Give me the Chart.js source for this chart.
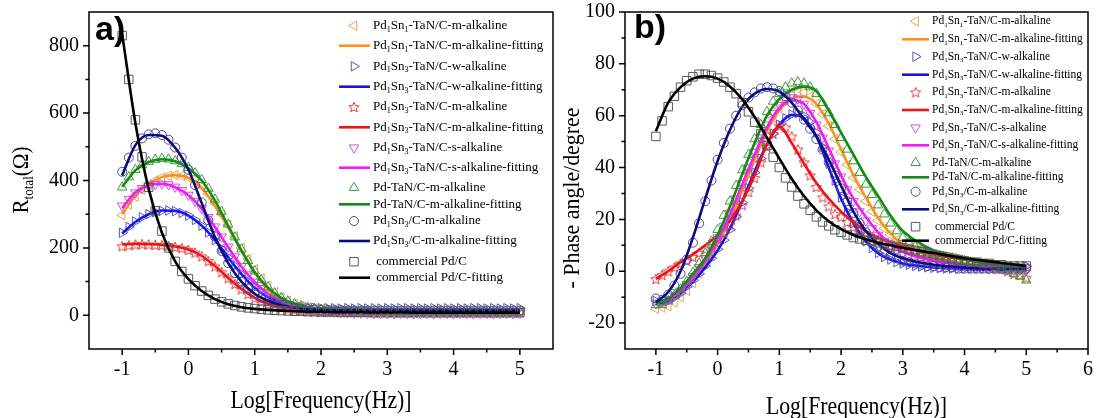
<!DOCTYPE html>
<html>
<head>
<meta charset="utf-8">
<script src="https://cdn.jsdelivr.net/npm/chart.js@4.4.1/dist/chart.umd.min.js"></script>
<style>
  body { margin: 0; background: #fff; }
  #wrap { position: relative; width: 1096px; height: 418px; }
  canvas { position: absolute; top: 0; }
</style>
</head>
<body>
<div id="wrap">
  <canvas id="chartA" width="560" height="418" style="left:0"></canvas>
  <canvas id="chartB" width="536" height="418" style="left:560px"></canvas>
</div>
<script>
// log frequency of the measured points and of the fitted curves
const logF = [-1,-0.9,-0.8,-0.7,-0.6,-0.5,-0.4,-0.3,-0.2,-0.1,0,0.1,0.2,0.3,0.4,0.5,0.6,0.7,0.8,0.9,
  1,1.1,1.2,1.3,1.4,1.5,1.6,1.7,1.8,1.9,2,2.1,2.2,2.3,2.4,2.5,2.6,2.7,2.8,2.9,
  3,3.1,3.2,3.3,3.4,3.5,3.6,3.7,3.8,3.9,4,4.1,4.2,4.3,4.4,4.5,4.6,4.7,4.8,4.9,5];
const fitLogF = [-1,-0.8,-0.6,-0.4,-0.2,0,0.2,0.4,0.6,0.8,1,1.2,1.4,1.6,1.8,2,2.2,2.4,2.6,2.8,3,3.5,4,4.5,5];

const legendLabels = [
  'Pd_1Sn_1-TaN/C-m-alkaline', 'Pd_1Sn_1-TaN/C-m-alkaline-fitting',
  'Pd_1Sn_3-TaN/C-w-alkaline', 'Pd_1Sn_3-TaN/C-w-alkaline-fitting',
  'Pd_1Sn_3-TaN/C-m-alkaline', 'Pd_1Sn_3-TaN/C-m-alkaline-fitting',
  'Pd_1Sn_3-TaN/C-s-alkaline', 'Pd_1Sn_3-TaN/C-s-alkaline-fitting',
  'Pd-TaN/C-m-alkaline', 'Pd-TaN/C-m-alkaline-fitting',
  'Pd_1Sn_3/C-m-alkaline', 'Pd_1Sn_3/C-m-alkaline-fitting',
  ' commercial Pd/C', ' commercial Pd/C-fitting'
];

// a) R_total (ohm), measured
const rOrange = [297,328,352,373,388,400,409,414,416,414, 409,398,382,360,332,300,268,234,200,167,
  136,110,87,68,53,42,34,28,23,20, 18,16,15,14,14,13,13,13,13,12, 12,13,12,12,13,12,12,13,12,12, 12,12,13,12,12,12,13,12,12,12,12];
const rBlue = [245,262,278,291,300,306,310,311,309,304, 296,283,266,246,223,198,172,147,123,101,
  83,67,55,45,38,32,28,25,23,22, 21,21,21,20,21,20,21,20,21,20, 21,20,21,21,20,21,20,21,20,21, 20,21,20,21,21,20,21,20,21,20,21];
const rRed = [205,208,210,211,210,209,208,206,203,199, 194,186,175,161,145,128,110,93,77,63,
  51,41,33,27,22,18,15,13,12,11, 10,10,10,9,9,9,9,9,9,9, 9,9,9,9,9,9,9,9,9,9, 9,9,9,9,9,9,9,9,9,9,9];
const rMagenta = [325,345,364,377,385,389,390,388,381,371, 357,339,317,291,263,233,203,174,146,121,
  99,80,64,51,41,33,27,22,18,15, 13,11,10,9,8,7,7,6,6,6, 6,5,6,6,5,6,6,5,6,6, 5,6,6,5,6,6,5,6,6,5,6];
const rGreen = [380,410,432,446,456,462,465,463,458,449, 438,422,402,376,344,308,270,232,196,162,
  131,105,84,66,52,42,34,28,23,20, 17,15,14,13,12,12,11,11,11,10, 10,10,10,10,10,10,10,10,10,10, 10,10,10,10,10,10,10,10,10,10,10];
const rNavy = [426,468,503,525,537,540,535,521,498,468, 432,386,335,282,234,191,155,125,100,80,
  64,52,43,36,30,26,23,20,18,17, 16,15,15,15,14,14,14,14,14,14, 14,14,14,14,14,14,14,14,14,14, 14,14,14,14,14,14,14,14,14,14,14];
const rBlack = [830,700,580,470,380,310,250,200,160,130, 108,88,72,59,48,40,34,29,25,22,
  20,18,16,15,14,13,12,12,11,11, 10,10,10,9,9,9,9,9,8,8, 8,8,8,8,8,8,8,8,8,8, 8,8,8,8,8,8,8,8,8,8,8];

// a) fitting
const rOrangeFit = [300,355,390,410,416,408,378,324,260,192,127,78,46,29,20,16,14,13,12.5,12,12,12,12,12,12];
const rBlueFit = [243,277,300,311,310,296,266,223,172,122,82,54,37,27,22,20,19,19,18.5,18,18,18,18,18,18];
const rRedFit = [210,212,211,209,204,195,176,146,111,78,52,34,23,16,13,11,10.5,10,10,10,10,10,10,10,10];
const rMagentaFit = [318,365,386,390,380,356,316,262,202,145,98,64,42,29,22,18,16,15,14,13.5,13,13,13,13,13];
const rGreenFit = [381,430,455,463,457,436,400,340,265,192,128,82,52,34,24,19,16,14,13,12.5,12,12,12,12,12];
const rNavyFit = [415,505,535,533,497,432,333,232,155,100,64,43,30,23,18,16,15,15,14.5,14,14,14,14,14,14];
const rBlackFit = [835,570,375,245,160,107,72,48,33,24,19,16,14,12,11,10,9.5,9,9,8.5,8.5,8,8,8,8];

// b) -phase angle (degree), measured
const phOrange = [-14.5,-14,-13.5,-12,-10,-7.5,-4.5,-1,3,7, 11,15.5,20.5,26,31.5,37.5,43.5,49,54.5,59,
  63,66,68,69,69,67.5,64.5,60.5,56,51, 46,41,36,31.5,27,23,19.5,16.5,14,12, 10.5,9,8,7,6,5.5,5,4.5,4,3.5, 3,3,2.5,2.5,2,2,1.5,1.5,1,1,1];
const phBlue = [-11.5,-12,-11.5,-10,-8.5,-6,-3.5,-1,2,5, 8.5,12,16,21,26.5,32,38,43.5,48.5,53,
  56.5,59,60.5,61,60,57.5,53.5,48,41.5,35, 28.5,23,18.5,14.5,11.5,9,7,5.5,4.5,3.5, 3,2.5,2,1.8,1.5,1.3,1.2,1,1,1, 1,1,1,1,1,1,1,1,1.5,1.5,2];
const phRed = [-3,-1.5,0,1.5,3,4,5.5,7,8.5,10.5, 12.5,15,18,21.5,25.5,30.5,36,42,48,53,
  56,55.5,52,47,42,37,32.5,28.5,25,22, 21,19,17,15.5,14,13,12,11,10,9.5, 9,8.5,8,7.5,7,6.5,6,5.5,5,4.5, 4,3.5,3,2.5,2,1.5,1,0,-1,-1.5,-2.5];
const phMagenta = [-12.5,-12,-11,-9.5,-7.5,-5,-2,1.5,5,9, 13,17.5,22.5,28,34,40,46,51.5,56.5,61,
  64,66,67,66.5,64.5,61,56.5,51.5,46.5,41.5, 36.5,31.5,27,23,19.5,16.5,14,11.5,9.5,8, 7,6,5,4.5,4,3.5,3,2.5,2.5,2, 2,1.5,1.5,1.5,1,1,1,1,0.5,0.5,0.5];
const phGreen = [-13,-13,-11.5,-9.5,-7,-4,-0.5,3,7,11.5, 16,21.5,27,33,39,45,51,56.5,61.5,65.5,
  68.5,71,72.5,73,72.5,71,68.5,65,61,56.5, 51.5,47,42.5,38,33.5,29.5,25.5,22,18.5,15.5, 13,11,9.5,8,7,6.5,6,5.5,5,4.5, 4,3.5,3,2.5,2,1.5,1,0,-1,-2,-3.5];
const phNavy = [-10.5,-11,-9,-5.5,-1,4.5,11,18.5,27,35, 43,49.5,55,60,64,67,69,70.5,71,70.5,
  69.5,67.5,65,62,58.5,55,51,47,42,37, 32,27,22.5,18.5,15,12,9.5,7.5,6,5, 4,3.5,3,2.5,2,2,1.5,1.5,1.5,1, 1,1,1,1,1,1,1,1,1,1,1];
const phBlack = [52,58,63.5,67.5,71,73.5,75,76,76,75.5, 74.5,73,71,68.5,65,61.5,57.5,53,48.5,44,
  40,36,32.5,29,26,23.5,21,19,17.5,16, 15,14,13,12.5,12,11.5,11,10.5,10,9.5, 9,8.5,8,7.5,7,6.5,6,5.5,5,4.5, 4,3.5,3.5,3,3,2.5,2.5,2,2,2,2];

// b) fitting
const phOrangeFit = [-13,-12.5,-9,-4,2.5,10.5,20,31,43,54,62,66.5,67.3,64.5,57,47,37,28.5,20.5,14.5,10.5,5.5,3,2,1.5];
const phBlueFit = [-12.5,-11.5,-8.5,-4,1.5,8,16.5,27,38.5,49,56.5,60.3,59,52,40,28,18.5,11.5,7,4.5,3,1.5,0.8,0.5,0.3];
const phRedFit = [-3,0,3.5,6.5,10,14,19.5,27,37,49,55.8,49.5,41.5,34,28,23,19,15.5,13,11,9.5,6.5,4.5,3,2];
const phMagentaFit = [-12,-11,-7.5,-2.5,4,12,22,33.5,45,55.5,63,66,64.5,57.5,47.5,37,28,21,15,10.5,7.5,4,2.5,1.8,1.5];
const phGreenFit = [-12.5,-10.5,-6.5,-1,5,14,25,37.5,49.5,60,66.5,70,71.2,69.5,62,53.5,45,36.5,29,21.5,15.5,8,4.5,2.5,1.5];
const phNavyFit = [-12,-8,0,13,28,42.5,54.5,63.5,68.5,70.3,69.3,65,58.5,52,43,33,23,15.5,10.5,7,5,2.5,1.5,1,0.8];
const phBlackFit = [54,65,71,74.3,75.2,74.3,71.3,66.3,59.5,51.5,43.5,35.7,29,23.5,19.3,16.2,14,12.3,11,10,9,7,5,3.5,2];

// axis ticks
const xTicksA = [-1,0,1,2,3,4,5], xMinorA = [-0.5,0.5,1.5,2.5,3.5,4.5];
const yTicksA = [0,200,400,600,800], yMinorA = [100,300,500,700];
const xTicksB = [-1,0,1,2,3,4,5,6], xMinorB = [-0.5,0.5,1.5,2.5,3.5,4.5,5.5];
const yTicksB = [-20,0,20,40,60,80,100], yMinorB = [-10,10,30,50,70,90];

Chart.defaults.font.family = '"Liberation Serif", "Times New Roman", serif';
Chart.defaults.color = '#000';

function starCanvas(color) {
    const s = 12, c = document.createElement('canvas');
    c.width = c.height = s;
    const g = c.getContext('2d');
    g.strokeStyle = color; g.lineWidth = 1;
    g.beginPath();
    for (let k = 0; k < 10; k++) {
        const r = k % 2 ? 2.4 : 5.4, a = -Math.PI / 2 + k * Math.PI / 5;
        g.lineTo(s / 2 + r * Math.cos(a), s / 2 + 0.5 + r * Math.sin(a));
    }
    g.closePath(); g.stroke();
    return c;
}

const STYLES = [
    { mark: '#E9A35A', line: '#F7931E', shape: 'triangle', rot: -90, r: 5.5 },
    { mark: '#5555C8', line: '#1414E6', shape: 'triangle', rot: 90, r: 5.5 },
    { mark: '#E03C3C', line: '#E8151B', shape: 'star', rot: 0, r: 5 },
    { mark: '#C653E0', line: '#F01EF0', shape: 'triangle', rot: 180, r: 5.5 },
    { mark: '#3C9C3C', line: '#168A16', shape: 'triangle', rot: 0, r: 5.5 },
    { mark: '#4B4B9B', line: '#0C0C7A', shape: 'circle', rot: 0, r: 4.5 },
    { mark: '#5A5A5A', line: '#000000', shape: 'rect', rot: 0, r: 6 },
];

function makeDatasets(marks, fits) {
    const out = [];
    STYLES.forEach((s, i) => {
        out.push({
            label: legendLabels[2 * i],
            data: logF.map((x, k) => ({ x, y: marks[i][k] })),
            showLine: false,
            pointStyle: s.shape === 'star' ? starCanvas(s.mark) : s.shape,
            pointRotation: s.rot,
            pointRadius: s.r,
            pointBorderWidth: 1,
            pointBorderColor: s.mark,
            pointBackgroundColor: 'rgba(0,0,0,0)',
            order: 100 - 2 * i
        });
        out.push({
            label: legendLabels[2 * i + 1],
            data: fitLogF.map((x, k) => ({ x, y: fits[i][k] })),
            showLine: true,
            pointRadius: 0,
            borderColor: s.line,
            borderWidth: 2.6,
            cubicInterpolationMode: 'monotone',
            order: 99 - 2 * i
        });
    });
    return out;
}

// text with _x or _{xyz} subscripts
function drawRich(ctx, text, x, y, size, align) {
    const parts = [];
    let i = 0, buf = '';
    while (i < text.length) {
        if (text[i] === '_') {
            if (buf) parts.push({ t: buf, sub: false }); buf = '';
            if (text[i + 1] === '{') {
                const j = text.indexOf('}', i);
                parts.push({ t: text.slice(i + 2, j), sub: true }); i = j + 1;
            } else { parts.push({ t: text[i + 1], sub: true }); i += 2; }
        } else { buf += text[i]; i++; }
    }
    if (buf) parts.push({ t: buf, sub: false });
    const fam = '"Liberation Serif", serif';
    const subSize = size * 0.62;
    let total = 0;
    parts.forEach(p => { ctx.font = `${p.sub ? subSize : size}px ${fam}`; p.w = ctx.measureText(p.t).width; total += p.w; });
    let cx = align === 'center' ? x - total / 2 : x;
    ctx.textAlign = 'left'; ctx.textBaseline = 'middle';
    parts.forEach(p => {
        ctx.font = `${p.sub ? subSize : size}px ${fam}`;
        ctx.fillText(p.t, cx, p.sub ? y + size * 0.3 : y);
        cx += p.w;
    });
}

const decor = {
    id: 'decor',
    afterDraw(chart, args, o) {
        const { ctx, chartArea: a, scales: { x, y } } = chart;
        ctx.save();
        ctx.strokeStyle = '#000'; ctx.fillStyle = '#000'; ctx.lineWidth = 1.5;
        ctx.strokeRect(a.left, a.top, a.right - a.left, a.bottom - a.top);

        ctx.beginPath();
        o.xMajor.forEach(v => { const p = x.getPixelForValue(v); ctx.moveTo(p, a.bottom); ctx.lineTo(p, a.bottom + 6); });
        o.xMinor.forEach(v => { const p = x.getPixelForValue(v); ctx.moveTo(p, a.bottom); ctx.lineTo(p, a.bottom + 3.5); });
        o.yMajor.forEach(v => { const p = y.getPixelForValue(v); ctx.moveTo(a.left, p); ctx.lineTo(a.left - 6, p); });
        o.yMinor.forEach(v => { const p = y.getPixelForValue(v); ctx.moveTo(a.left, p); ctx.lineTo(a.left - 3.5, p); });
        ctx.stroke();

        // axis titles
        ctx.save();
        ctx.translate((a.left + a.right) / 2, o.xTitleY);
        ctx.scale(0.87, 1);
        ctx.font = '25px "Liberation Serif", serif';
        ctx.textAlign = 'center'; ctx.textBaseline = 'alphabetic';
        ctx.fillText('Log[Frequency(Hz)]', 0, 0);
        ctx.restore();
        ctx.save();
        ctx.translate(o.yTitle.x, o.yTitle.y); ctx.rotate(-Math.PI / 2);
        ctx.scale(o.yTitle.sx, 1);
        drawRich(ctx, o.yTitle.text, 0, 0, 23, 'center');
        ctx.restore();

        // panel letter
        ctx.font = 'bold 34px "Liberation Sans", Arial, sans-serif';
        ctx.textAlign = 'left'; ctx.textBaseline = 'alphabetic';
        ctx.fillText(o.letter.text, o.letter.x, o.letter.y);

        // legend
        const L = o.legend;
        chart.data.datasets.forEach((ds, i) => {
            const ry = L.rows[i];
            if (ds.showLine) {
                ctx.strokeStyle = ds.borderColor; ctx.lineWidth = 2.6;
                ctx.beginPath(); ctx.moveTo(L.line[0], ry); ctx.lineTo(L.line[1], ry); ctx.stroke();
            } else {
                ctx.strokeStyle = ds.pointBorderColor; ctx.fillStyle = 'rgba(0,0,0,0)'; ctx.lineWidth = 1;
                Chart.helpers.drawPoint(ctx, { pointStyle: ds.pointStyle, rotation: ds.pointRotation, radius: ds.pointRadius, borderWidth: 1 }, L.mark, ry);
            }
            ctx.fillStyle = '#000';
            drawRich(ctx, ds.label, L.text, ry, L.size, 'left');
        });
        ctx.restore();
    }
};

function makeChart(id, datasets, cfg) {
    return new Chart(document.getElementById(id), {
        type: 'scatter',
        data: { datasets },
        options: {
            responsive: false,
            animation: false,
            layout: { padding: { top: 12, right: cfg.padRight, bottom: 0, left: 0 } },
            scales: {
                x: {
                    type: 'linear', min: cfg.xMin, max: cfg.xMax,
                    grid: { display: false, drawTicks: false }, border: { display: false },
                    ticks: { padding: 9, font: { size: 20 }, maxRotation: 0, autoSkip: false },
                    afterBuildTicks: s => { s.ticks = cfg.xMajor.map(v => ({ value: v })); },
                    afterFit: s => { s.height = 69; s.paddingLeft = 0; s.paddingRight = 0; }
                },
                y: {
                    type: 'linear', min: cfg.yMin, max: cfg.yMax,
                    grid: { display: false, drawTicks: false }, border: { display: false },
                    ticks: { padding: 10, font: { size: 20 }, autoSkip: false },
                    afterBuildTicks: s => { s.ticks = cfg.yMajor.map(v => ({ value: v })); },
                    afterFit: s => { s.width = cfg.yWidth; s.paddingTop = 0; s.paddingBottom = 0; }
                }
            },
            plugins: {
                legend: { display: false },
                tooltip: { enabled: false },
                decor: cfg.decor
            }
        },
        plugins: [decor]
    });
}

makeChart('chartA',
    makeDatasets([rOrange, rBlue, rRed, rMagenta, rGreen, rNavy, rBlack],
                 [rOrangeFit, rBlueFit, rRedFit, rMagentaFit, rGreenFit, rNavyFit, rBlackFit]),
    {
        xMin: -1.5, xMax: 5.5, yMin: -100, yMax: 900, yWidth: 89, padRight: 7,
        xMajor: xTicksA, yMajor: yTicksA,
        decor: {
            xMajor: xTicksA, xMinor: xMinorA, yMajor: yTicksA, yMinor: yMinorA,
            xTitleY: 408,
            yTitle: { text: 'R_{total}(Ω)', x: 22, y: 180, sx: 0.92 },
            letter: { text: 'a)', x: 95, y: 40 },
            legend: {
                rows: [25.7, 45.7, 66.3, 86.7, 107, 127.3, 147.7, 167.7, 187.7, 204.3, 221, 241, 261.7, 277.7],
                line: [339, 370], mark: 354, text: 373, size: 13
            }
        }
    });

makeChart('chartB',
    makeDatasets([phOrange, phBlue, phRed, phMagenta, phGreen, phNavy, phBlack],
                 [phOrangeFit, phBlueFit, phRedFit, phMagentaFit, phGreenFit, phNavyFit, phBlackFit]),
    {
        xMin: -1.5, xMax: 6, yMin: -30, yMax: 100, yWidth: 65, padRight: 8,
        xMajor: xTicksB, yMajor: yTicksB,
        decor: {
            xMajor: xTicksB, xMinor: xMinorB, yMajor: yTicksB, yMinor: yMinorB,
            xTitleY: 414,
            yTitle: { text: '- Phase angle/degree', x: 13, y: 198, sx: 0.95 },
            letter: { text: 'b)', x: 74, y: 38 },
            legend: {
                rows: [21.3, 39.3, 56.7, 74.7, 92.3, 110, 127.7, 145.3, 162.7, 177.3, 191.7, 209.3, 226.7, 240.7],
                line: [342, 369], mark: 355.6, text: 372, size: 11.5
            }
        }
    });
</script>
</body>
</html>
